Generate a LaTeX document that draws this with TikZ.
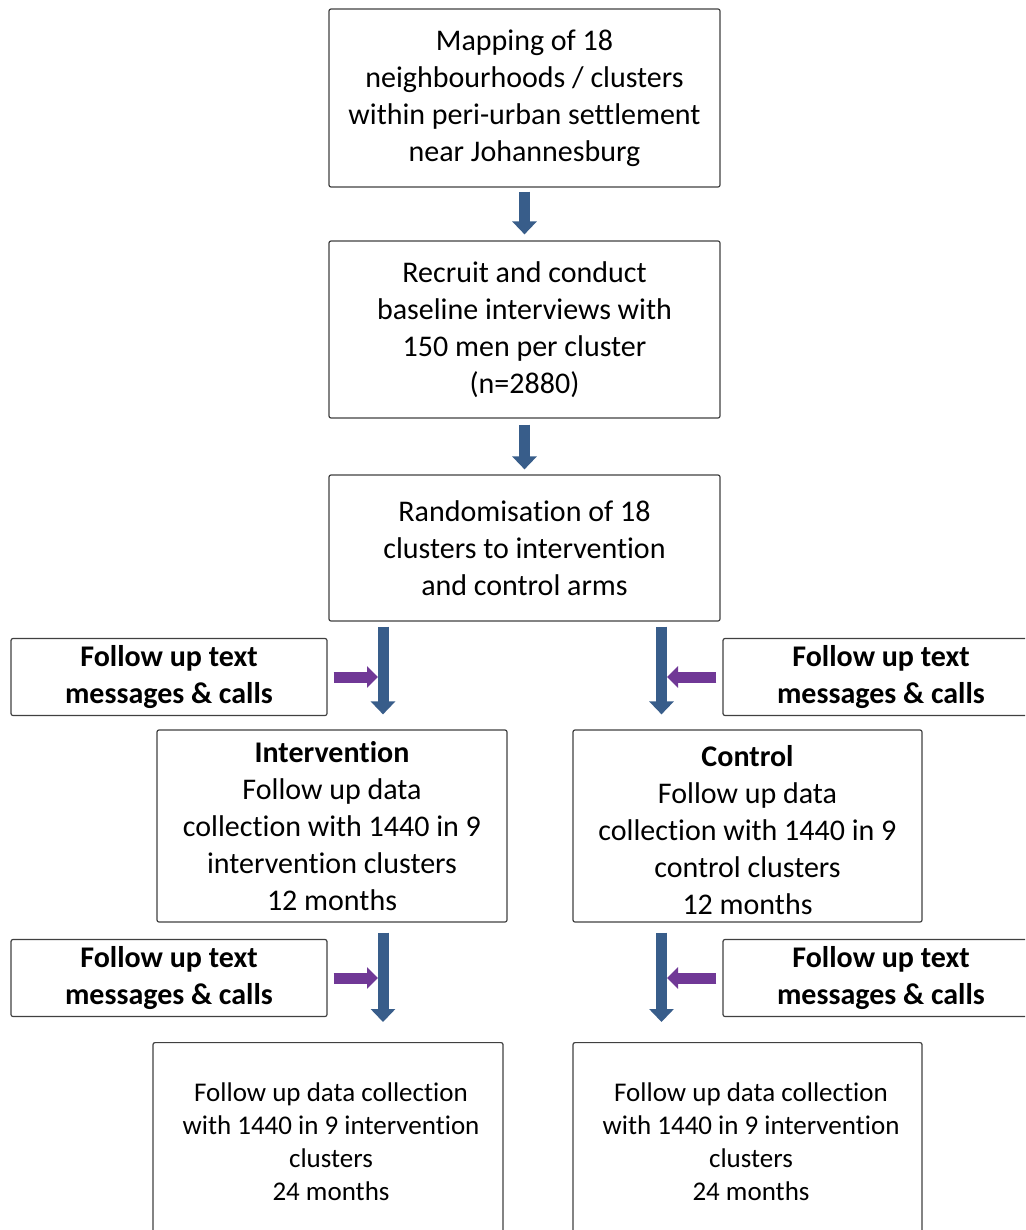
\documentclass[tikz,border=0pt]{standalone}
\usepackage{fontspec}
\setmainfont{Carlito}[Ligatures={NoCommon}]
\usetikzlibrary{arrows.meta}
\definecolor{boxline}{RGB}{64,64,64}
\definecolor{flowblue}{RGB}{56,93,138}
\definecolor{flowpurple}{RGB}{112,56,150}
\begin{document}
\begin{tikzpicture}[x=1pt,y=-1pt,
  box/.style={draw=boxline, line width=1.2pt, rounded corners=2pt, align=center, inner sep=0pt,
    font=\fontsize{30}{37}\selectfont},
  smalltext/.style={font=\fontsize{27}{33}\selectfont, align=center, inner sep=0pt},
  fubox/.style={box, font=\bfseries\fontsize{30}{37}\selectfont},
  bluearrow/.style={draw=flowblue, line width=11pt, -{Triangle[width=24pt,length=13pt,fill=flowblue]}},
  purplearrow/.style={draw=flowpurple, line width=11pt, -{Triangle[width=21pt,length=11pt,fill=flowpurple]}}
]
\useasboundingbox (0,0) rectangle (1025,1230);
\clip (0,0) rectangle (1025,1230);

\node[box, minimum width=391pt, minimum height=178pt] (b1) at (524.5,98)
  {Mapping of 18\\neighbourhoods / clusters\\within peri-urban settlement\\near Johannesburg};
\node[box, minimum width=391pt, minimum height=177pt] (b2) at (524.5,329.5)
  {Recruit and conduct\\baseline interviews with\\150 men per cluster\\(n=2880)};
\node[box, minimum width=391pt, minimum height=146pt] (b3) at (524.5,548)
  {Randomisation of 18\\clusters to intervention\\and control arms};

\node[box, minimum width=350pt, minimum height=192pt] (int) at (332,826)
  {\textbf{Intervention}\\Follow up data\\collection with 1440 in 9\\intervention clusters\\12 months};
\node[box, minimum width=349pt, minimum height=192pt] (con) at (747.5,826) {};
\node[box, draw=none, anchor=center, yshift=-4pt] (cont) at (con.center)
  {\textbf{Control}\\Follow up data\\collection with 1440 in 9\\control clusters\\12 months};

\node[fubox, minimum width=316pt, minimum height=77pt] (fl1) at (169,677) {Follow up text\\messages \& calls};
\node[fubox, minimum width=316pt, minimum height=77pt] (fr1) at (881,677) {Follow up text\\messages \& calls};
\node[fubox, minimum width=316pt, minimum height=77pt] (fl2) at (169,978) {Follow up text\\messages \& calls};
\node[fubox, minimum width=316pt, minimum height=77pt] (fr2) at (881,978) {Follow up text\\messages \& calls};

\node[box, minimum width=350pt, minimum height=200pt, anchor=north] (bl) at (328,1042) {};
\node[box, minimum width=349pt, minimum height=200pt, anchor=north] (br) at (747.5,1042) {};
\node[smalltext] (blt) at (331,1142)
  {Follow up data collection\\with 1440 in 9 intervention\\clusters\\24 months};
\node[smalltext] (brt) at (751,1142)
  {Follow up data collection\\with 1440 in 9 intervention\\clusters\\24 months};

\coordinate (lx) at (383,0);
\coordinate (rx) at (661.5,0);

\draw[bluearrow, shorten <=4pt, shorten >=6pt] (b1.south) -- (b2.north);
\draw[bluearrow, shorten <=6pt, shorten >=5pt] (b2.south) -- (b3.north);
\draw[bluearrow, shorten <=5pt, shorten >=15pt] (b3.south -| lx) -- (int.north -| lx);
\draw[bluearrow, shorten <=5pt, shorten >=15pt] (b3.south -| rx) -- (con.north -| rx);
\draw[bluearrow, shorten <=10pt, shorten >=20pt] (int.south -| lx) -- (bl.north -| lx);
\draw[bluearrow, shorten <=10pt, shorten >=20pt] (con.south -| rx) -- (br.north -| rx);

\draw[purplearrow, shorten <=6pt, shorten >=5pt] (fl1.east) -- (fl1.east -| lx);
\draw[purplearrow, shorten <=6pt, shorten >=5.5pt] (fr1.west) -- (fr1.west -| rx);
\draw[purplearrow, shorten <=6pt, shorten >=5pt] (fl2.east) -- (fl2.east -| lx);
\draw[purplearrow, shorten <=6pt, shorten >=5.5pt] (fr2.west) -- (fr2.west -| rx);
\end{tikzpicture}
\end{document}
